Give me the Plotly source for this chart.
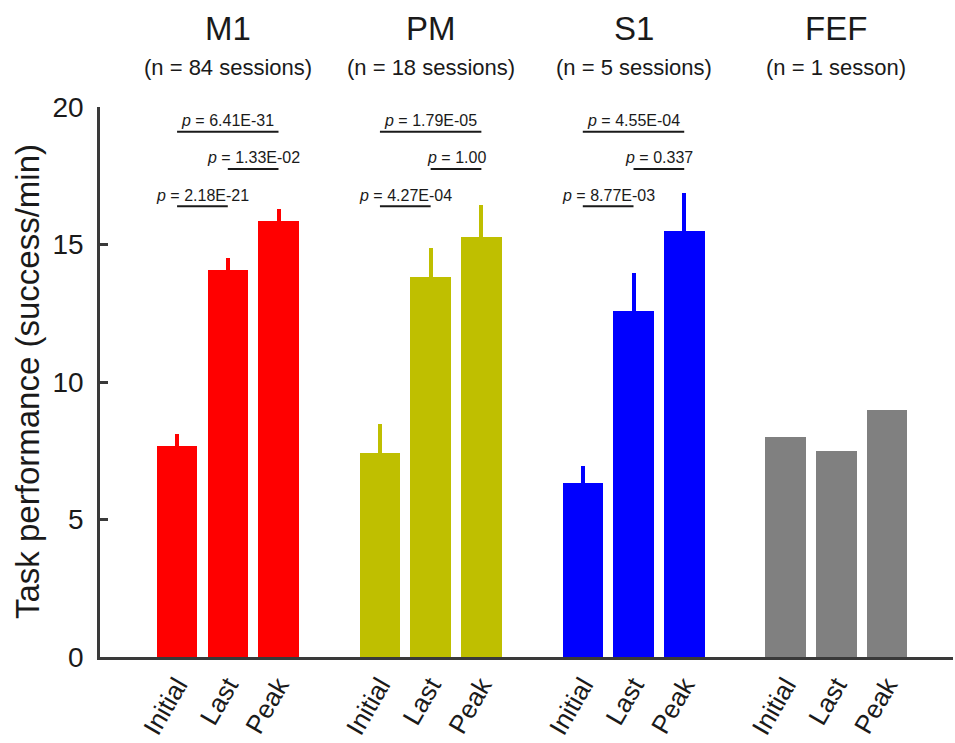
import plotly.graph_objects as go

# Recording areas and their session counts
areas = ["M1", "PM", "S1", "FEF"]
session_labels = ["(n = 84 sessions)", "(n = 18 sessions)", "(n = 5 sessions)", "(n = 1 sesson)"]
conditions = ["Initial", "Last", "Peak"]

# Task performance (success/min): mean and upper error per condition
m1_mean = [7.66, 14.09, 15.85]
m1_err = [0.45, 0.42, 0.43]
pm_mean = [7.41, 13.81, 15.26]
pm_err = [1.07, 1.07, 1.18]
s1_mean = [6.32, 12.60, 15.48]
s1_err = [0.64, 1.36, 1.40]
fef_mean = [8.0, 7.5, 9.0]
fef_err = [0.0, 0.0, 0.0]

# Pairwise comparisons: (from condition, to condition, p-value label)
m1_pvals = [(0, 2, "6.41E-31"), (1, 2, "1.33E-02"), (0, 1, "2.18E-21")]
pm_pvals = [(0, 2, "1.79E-05"), (1, 2, "1.00"), (0, 1, "4.27E-04")]
s1_pvals = [(0, 2, "4.55E-04"), (1, 2, "0.337"), (0, 1, "8.77E-03")]
bracket_levels = [19.1, 17.75, 16.39]

means = [m1_mean, pm_mean, s1_mean, fef_mean]
errs = [m1_err, pm_err, s1_err, fef_err]
pvals = [m1_pvals, pm_pvals, s1_pvals, []]
colors = ["#FF0000", "#BFBF00", "#0000FF", "#808080"]

FONT = "Liberation Sans, Arial, sans-serif"
TXT = "#1a1a1a"
AX = "#3a3a3a"

fig = go.Figure()
tickvals, ticktext = [], []
shapes, annotations = [], []

for g, area in enumerate(areas):
    xs = [g * 4 + i for i in range(len(conditions))]
    tickvals += xs
    ticktext += conditions
    fig.add_trace(go.Bar(
        x=xs, y=means[g], width=0.8,
        marker=dict(color=colors[g], line=dict(width=0)),
        error_y=dict(type="data", symmetric=False, array=errs[g],
                     arrayminus=[0] * len(xs), width=0, thickness=4,
                     color=colors[g], visible=any(e > 0 for e in errs[g])),
        showlegend=False, hoverinfo="skip",
    ))
    # Area title and session count
    annotations.append(dict(x=xs[1], y=1, xref="x", yref="paper", text=area,
                            showarrow=False, yanchor="middle", yshift=79,
                            font=dict(family=FONT, size=33, color=TXT)))
    annotations.append(dict(x=xs[1], y=1, xref="x", yref="paper", text=session_labels[g],
                            showarrow=False, yanchor="middle", yshift=40,
                            font=dict(family=FONT, size=22, color=TXT)))
    # Significance brackets
    for k, (a, b, label) in enumerate(pvals[g]):
        lvl = bracket_levels[k]
        shapes.append(dict(type="line", xref="x", yref="y", x0=xs[a], x1=xs[b],
                           y0=lvl, y1=lvl, line=dict(color=TXT, width=2)))
        annotations.append(dict(x=(xs[a] + xs[b]) / 2, y=lvl, xref="x", yref="y",
                                text="<i>p</i> = " + label, showarrow=False,
                                yanchor="middle", yshift=11,
                                font=dict(family=FONT, size=16, color=TXT)))

# Y-axis title
annotations.append(dict(x=0, y=0.5, xref="paper", yref="paper",
                        text="Task performance (success/min)", textangle=-90,
                        showarrow=False, xanchor="center", yanchor="middle", xshift=-73,
                        font=dict(family=FONT, size=33, color=TXT)))

fig.update_layout(
    width=955, height=743,
    margin=dict(l=100, r=2, t=107, b=86),
    paper_bgcolor="white", plot_bgcolor="white",
    bargap=0, shapes=shapes, annotations=annotations,
    font=dict(family=FONT, color=TXT),
    xaxis=dict(range=[-1.52, 15.3], tickvals=tickvals, ticktext=ticktext,
               tickangle=-60, showline=True, linecolor=AX, linewidth=2.5,
               ticks="", showgrid=False, zeroline=False, automargin=False,
               tickfont=dict(family=FONT, size=26, color=TXT)),
    yaxis=dict(range=[0, 20], tickvals=[0, 5, 10, 15, 20],
               ticks="inside", ticklen=8, tickwidth=2.5, tickcolor=AX,
               showline=True, linecolor=AX, linewidth=2.5, automargin=False,
               showgrid=False, zeroline=False, ticklabelstandoff=8,
               tickfont=dict(family=FONT, size=28, color=TXT)),
)

fig.write_html("out.html")
